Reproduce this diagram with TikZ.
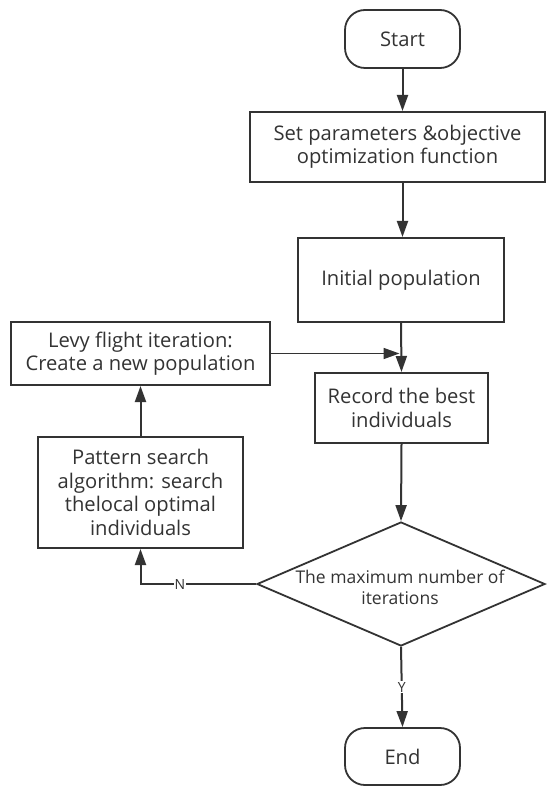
\documentclass[tikz,border=0pt]{standalone}
\usepackage{fontspec}
\setmainfont{Open Sans}
\usetikzlibrary{shapes.geometric,arrows.meta}
\definecolor{ink}{HTML}{333333}
\newlength\mylwa
\newlength\mylwb
\AtBeginDocument{%
  \settowidth\mylwa{\normalfont\fontsize{20}{24}\selectfont Set parameters \&objective}%
  \settowidth\mylwb{\normalfont\fontsize{20}{24}\selectfont The maximum number of}%
  \pgfmathsetmacro\bfs{20*248/\mylwa}%
  \pgfmathsetmacro\dfs{20*209/\mylwb}%
  \xdef\bfs{\bfs}\xdef\dfs{\dfs}}
\begin{document}
\begin{tikzpicture}[x=1pt,y=-1pt,
  every node/.style={text=ink, font=\fontsize{\bfs}{23.5}\selectfont, align=center, inner sep=0pt},
  proc/.style={draw=ink, line width=2pt, rectangle},
  term/.style={draw=ink, line width=1.8pt, rectangle, rounded corners=20pt},
  dec/.style={draw=ink, line width=1.8pt, diamond},
  arr/.style={draw=ink, line width=2pt, -{Triangle[length=16pt,width=11pt]}},
  lab/.style={fill=white, font=\fontsize{14}{16}\selectfont, inner sep=1pt}]
\useasboundingbox (0,0) rectangle (547,786);
\node[term, minimum width=115pt, minimum height=58pt] (start) at (402.5,39) {Start};
\node[proc, minimum width=295pt, minimum height=70pt] (set) at (397.5,147) {Set parameters \&objective\\optimization function};
\node[proc, minimum width=206pt, minimum height=84pt] (init) at (401,280) {Initial population};
\node[proc, minimum width=173pt, minimum height=70pt] (rec) at (401.5,408) {Record the best\\individuals};
\node[proc, minimum width=259pt, minimum height=63pt] (levy) at (140.5,353.5) {Levy flight iteration:\\Create a new population};
\node[proc, minimum width=205pt, minimum height=111pt] (pat) at (140.5,492.5) {Pattern search\\algorithm: search\\thelocal optimal\\individuals};
\node[dec, minimum width=288pt, minimum height=124pt] (dia) at (401,584) {};
\node[font=\fontsize{\dfs}{21}\selectfont] (diat) at (400,587) {The maximum number of\\iterations};
\node[term, minimum width=115pt, minimum height=57pt] (end) at (402.5,756.5) {End};
\draw[arr] (start.south) -- (start.south |- set.north);
\draw[arr] (start.south |- set.south) -- (start.south |- init.north);
\draw[arr] (init.south) -- (rec.north);
\draw[arr, line width=1.6pt] (levy.east) -- ([xshift=-2pt]levy.east -| rec.north);
\draw[arr] (rec.south) -- (dia.north);
\draw[arr] (dia.west) -| node[lab, pos=0.33] (nl) {N} (pat.south);
\draw[arr] (pat.north) -- (levy.south);
\draw[arr] (dia.south) -- node[lab] (yl) {Y} (end.north);
\end{tikzpicture}
\end{document}
